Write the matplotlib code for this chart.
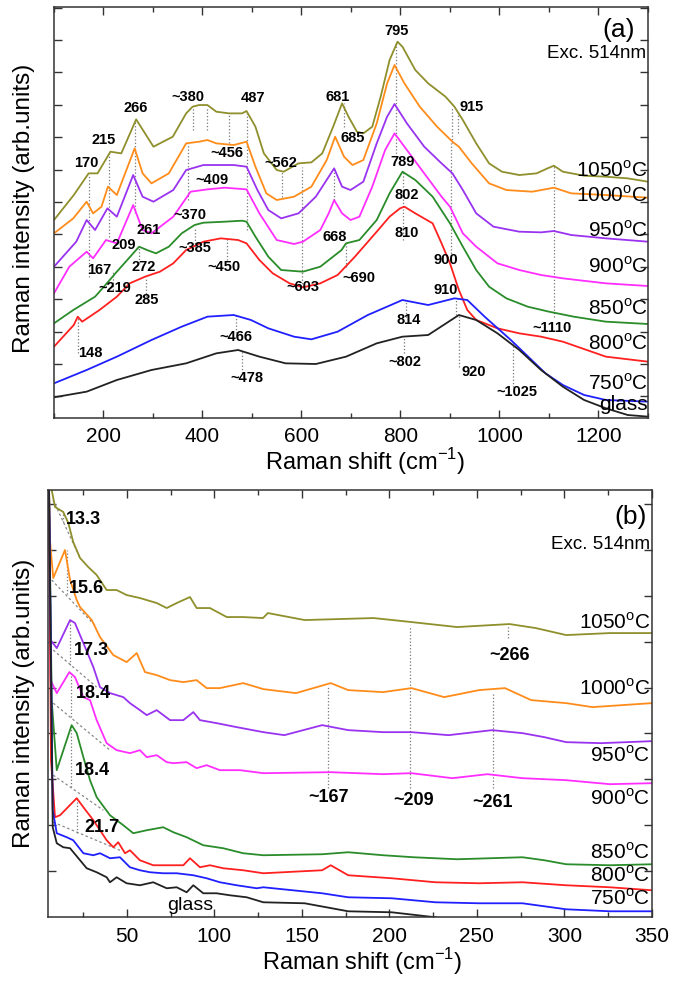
import matplotlib
matplotlib.use('Agg')
import matplotlib.pyplot as plt
import numpy as np
from matplotlib.ticker import MultipleLocator, FixedLocator, NullFormatter

plt.rcParams['font.family'] = ['Liberation Sans', 'DejaVu Sans']
plt.rcParams['mathtext.fontset'] = 'custom'
plt.rcParams['mathtext.rm'] = 'Liberation Sans'

# ---------------- panel (a) data: Raman shift (cm-1) / intensity (arb.) ----------------
a1050_x = [100, 140, 170, 188, 214, 236, 266, 301, 340, 367, 380, 393, 410, 428, 454, 480, 489, 507, 524, 550,
           564, 594, 620, 642, 664, 682, 695, 712, 725, 743, 760, 778, 794, 804, 830, 856, 891, 909, 926, 953,
           979, 1005, 1040, 1075, 1097, 1110, 1128, 1171, 1215, 1259, 1300]
a1050_y = [593, 668, 733, 733, 798, 793, 895, 813, 843, 913, 933, 938, 938, 918, 913, 913, 920, 873, 793, 743,
           738, 763, 766, 793, 873, 943, 903, 858, 853, 873, 963, 1073, 1128, 1113, 1043, 1003, 963, 933, 893, 823,
           763, 738, 728, 733, 748, 756, 738, 726, 723, 718, 708]

a1000_x = [100, 139, 166, 179, 196, 209, 227, 263, 279, 297, 332, 367, 393, 410, 428, 463, 489, 507, 529, 550,
           585, 620, 651, 668, 686, 703, 725, 752, 773, 788, 808, 839, 874, 905, 918, 944, 979, 1014, 1066, 1110,
           1145, 1215, 1300]
a1000_y = [553, 598, 648, 613, 633, 693, 668, 808, 733, 703, 733, 823, 828, 833, 823, 818, 828, 753, 673, 653,
           663, 693, 773, 843, 783, 758, 773, 883, 1003, 1058, 1003, 933, 873, 828, 813, 763, 703, 683, 678, 690,
           673, 668, 660]

a950_x = [100, 145, 166, 183, 208, 227, 260, 279, 301, 341, 367, 402, 428, 463, 489, 511, 533, 559, 594, 629,
          666, 682, 699, 725, 752, 773, 788, 813, 848, 883, 905, 926, 953, 988, 1040, 1084, 1110, 1145, 1215, 1300]
a950_y = [453, 528, 593, 563, 628, 603, 728, 663, 648, 683, 743, 758, 758, 758, 753, 683, 623, 598, 613, 663,
          748, 693, 683, 708, 823, 903, 941, 883, 813, 763, 733, 683, 613, 573, 558, 556, 560, 548, 538, 528]

a900_x = [100, 131, 166, 179, 205, 227, 260, 279, 297, 341, 376, 410, 445, 489, 515, 550, 585, 603, 638, 655,
          666, 682, 699, 717, 743, 769, 788, 813, 848, 883, 900, 926, 953, 996, 1040, 1084, 1128, 1215, 1300]
a900_y = [373, 453, 498, 478, 533, 523, 638, 563, 553, 603, 678, 685, 690, 685, 613, 533, 521, 528, 563, 613,
          653, 613, 593, 603, 693, 803, 853, 803, 733, 663, 633, 553, 513, 463, 443, 428, 418, 403, 395]

a850_x = [100, 139, 183, 201, 227, 272, 288, 306, 332, 358, 384, 402, 445, 480, 489, 507, 533, 559, 603, 638,
          681, 690, 717, 752, 778, 804, 830, 865, 900, 926, 953, 979, 1014, 1057, 1100, 1150, 1215, 1300]
a850_y = [283, 323, 363, 393, 438, 513, 503, 493, 513, 553, 578, 585, 588, 591, 588, 543, 483, 443, 438, 453,
          503, 523, 533, 593, 673, 738, 713, 663, 583, 513, 443, 393, 358, 333, 318, 303, 288, 281]

a800_x = [100, 140, 148, 157, 192, 227, 253, 284, 314, 341, 367, 402, 437, 472, 489, 515, 542, 576, 603, 638,
          673, 708, 752, 778, 799, 808, 830, 865, 883, 900, 918, 935, 953, 996, 1040, 1084, 1128, 1215, 1300]
a800_y = [213, 278, 303, 288, 323, 363, 403, 423, 438, 463, 503, 528, 538, 533, 523, 473, 433, 403, 391, 403,
          428, 483, 558, 603, 628, 633, 613, 583, 523, 463, 383, 323, 293, 268, 253, 243, 228, 183, 168]

a750_x = [100, 166, 227, 297, 358, 410, 463, 498, 533, 585, 620, 673, 734, 804, 856, 909, 935, 970, 1023, 1058,
          1093, 1128, 1171, 1215, 1300]
a750_y = [103, 143, 183, 233, 273, 303, 308, 293, 268, 243, 235, 258, 308, 353, 338, 358, 353, 303, 233, 183,
          133, 98, 68, 53, 48]

a_glass_x = [100, 166, 227, 297, 367, 428, 472, 515, 568, 629, 690, 752, 804, 856, 918, 953, 996, 1040, 1084,
             1128, 1171, 1215, 1259, 1300]
a_glass_y = [61, 78, 113, 143, 163, 193, 203, 183, 163, 161, 183, 223, 243, 248, 308, 293, 253, 203, 143,
             93, 53, 28, 8, 3]

# dotted peak markers (a): position, lower and upper intensity
a_vl_x = [170, 212, 219, 263, 272, 285, 148, 380, 410, 371, 384, 454, 489, 450, 467, 480, 561, 602, 686, 666,
          690, 790, 806, 812, 808, 904, 916, 902, 913, 918, 1027, 1110]
a_vl_lo = [423, 543, 383, 613, 463, 363, 193, 863, 863, 653, 513, 823, 563, 473, 253, 133, 663, 393, 873, 653,
           453, 773, 533, 303, 193, 823, 853, 473, 308, 153, 93, 303]
a_vl_hi = [728, 793, 443, 888, 513, 423, 303, 933, 933, 823, 573, 913, 920, 543, 308, 203, 738, 753, 943, 748,
           523, 1123, 738, 353, 243, 933, 923, 823, 358, 308, 223, 756]

# peak labels (a)
a_lab = ['170', '215', '266', '~380', '487', '681', '795', '915', '~456', '~562', '685', '~409', '789', '~370',
         '802', '261', '668', '810', '209', '~385', '167', '272', '~450', '900', '~219', '~603', '~690', '285',
         '910', '814', '~1110', '148', '~466', '~802', '920', '~478', '~1025']
a_lab_x = [166, 200, 266, 371, 502, 673, 793, 944, 450, 559, 703, 419, 804, 375, 813, 292, 668, 813, 240, 384,
           192, 281, 443, 891, 222, 603, 716, 288, 891, 817, 1106, 174, 467, 808, 948, 489, 1036]
a_lab_y = [763, 833, 928, 963, 958, 963, 1161, 933, 793, 763, 838, 713, 768, 608, 668, 563, 543, 553, 518, 508,
           443, 453, 453, 473, 388, 393, 418, 353, 383, 293, 268, 195, 243, 168, 138, 118, 78]

temps = ['1050', '1000', '950', '900', '850', '800', '750']
colors = ['#8f8f2c', '#ff8c1a', '#9933f0', '#ff2eff', '#2a8c2a', '#ff2020', '#2020ff']
a_temp_y = [743, 668, 563, 453, 328, 223, 103]
a_glass_lab_y = 40

# ---------------- panel (b) data ----------------
b1050_x = [5.5, 7.1, 9.0, 13.7, 16.6, 19.4, 23.3, 28.0, 32.8, 38.5, 44.2, 49.9, 57.5, 67.1, 72.8, 78.5, 86.1,
           89.9, 97.5, 107.1, 116.4, 127.8, 130.6, 151.6, 191, 212.6, 238.7, 268.6, 283.6, 301, 326, 350]
b1050_y = [440, 427, 410, 405, 394, 375, 359, 350, 342, 327, 327, 322, 319, 314, 309, 314, 320, 309, 309, 300,
           300, 299, 304, 297, 299, 295, 290, 293, 289, 282, 284, 284]

b1000_x = [5.5, 6.1, 8.0, 14.7, 17.6, 21.4, 23.3, 30.0, 34.7, 42.3, 49.9, 55.7, 60.4, 67.1, 74.7, 82.3, 89.9,
           95.6, 103.2, 116.5, 128.0, 146.6, 166.5, 176.5, 196.4, 212.6, 231.3, 251.2, 266, 281, 301, 316, 350]
b1000_y = [440, 377, 339, 367, 337, 317, 310, 297, 280, 262, 255, 264, 245, 242, 237, 235, 237, 229, 229, 234,
           228, 224, 234, 227, 225, 229, 220, 227, 229, 217, 214, 210, 214]

b950_x = [5.5, 6.5, 10.0, 17.6, 20.4, 25.2, 30.9, 34.7, 40.4, 48.0, 51.8, 57.5, 61.4, 67.1, 74.7, 82.3, 88.0,
          91.8, 101.3, 112.8, 128.0, 140, 161.6, 176.5, 196.4, 212.6, 233.8, 258.7, 276, 288.5, 301, 321, 350]
b950_y = [440, 277, 269, 297, 294, 274, 250, 230, 224, 220, 214, 207, 202, 207, 197, 197, 205, 197, 194, 190,
          185, 182, 192, 187, 185, 185, 182, 187, 184, 180, 175, 174, 176]

b900_x = [5.5, 6.5, 10.0, 17.2, 20.4, 25.2, 29.0, 32.8, 38.5, 44.2, 51.8, 57.5, 61.4, 67.1, 72.8, 76.6, 84.2,
          89.9, 95.6, 103.2, 114.7, 128.0, 166.5, 196.4, 212.6, 236, 256, 276, 301, 326, 350]
b900_y = [440, 237, 224, 245, 240, 220, 217, 197, 174, 167, 164, 167, 160, 162, 155, 154, 155, 149, 152, 147,
          147, 144, 145, 143, 144, 139, 143, 139, 137, 133, 134]

b850_x = [5.5, 7.1, 10.0, 18.5, 21.4, 25.2, 29.0, 32.8, 40.4, 48.0, 53.7, 61.4, 70.8, 76.6, 84.2, 93.7, 105.1,
          116.5, 128.0, 161.6, 176.5, 196.4, 213.8, 238.7, 276, 288.5, 301, 326, 350]
b850_y = [440, 217, 147, 192, 184, 160, 137, 120, 102, 92, 84, 87, 90, 85, 80, 72, 69, 64, 62, 63, 65, 62, 60,
          58, 60, 57, 53, 52, 53]

b800_x = [5.5, 6.7, 9.0, 11.9, 21.4, 25.2, 30.9, 38.5, 42.3, 45.1, 49.0, 51.8, 57.5, 65.1, 74.7, 82.3, 86.1,
          91.8, 97.5, 105.1, 116.5, 128.0, 161.6, 166.5, 176.5, 201.4, 226.3, 251.2, 276, 301, 326, 350]
b800_y = [440, 157, 100, 102, 119, 110, 97, 77, 70, 75, 64, 67, 57, 52, 52, 52, 59, 50, 52, 49, 47, 44, 47, 52,
          42, 39, 35, 34, 35, 32, 30, 27]

b750_x = [5.5, 7.7, 10.0, 15.7, 19.4, 25.2, 30.9, 34.7, 40.4, 46.1, 51.8, 57.5, 63.3, 70.8, 78.5, 88.0, 95.6,
          103.2, 112.8, 124.2, 128.0, 161.6, 176.5, 201.4, 226.3, 251.2, 276, 301, 326, 350]
b750_y = [440, 107, 84, 80, 77, 64, 62, 64, 59, 60, 50, 47, 45, 44, 44, 42, 39, 35, 32, 29, 30, 24, 20, 19, 15,
          14, 14, 8, 6, 6]

b_glass_x = [5.5, 7.7, 10.0, 13.7, 17.6, 23.3, 27.1, 32.8, 38.5, 40.4, 44.2, 49.9, 57.5, 65.1, 72.8, 78.5, 84.2,
             88.0, 93.7, 101.3, 108.9, 118.5, 128.0, 151.6, 176.5, 201.4, 216.3, 226.3, 245]
b_glass_y = [440, 90, 74, 70, 69, 57, 49, 45, 40, 35, 40, 34, 32, 35, 29, 30, 25, 32, 24, 24, 22, 20, 15, 14, 6,
             5, 2, 0, -5]

# boson-peak baselines (b): x0, y0, x1, y1
b_base_x0 = [7.9, 7.1, 8.0, 8.0, 8.0, 8.0]
b_base_y0 = [417, 337, 267, 214, 142, 95]
b_base_x1 = [23.3, 32.8, 32.8, 40.4, 36.6, 46.1]
b_base_y1 = [359, 290, 230, 167, 107, 67]
b_peak = ['13.3', '15.6', '17.3', '18.4', '18.4', '21.7']
b_peak_x = [13.3, 15.6, 17.3, 18.4, 18.4, 21.7]
b_peak_hi = [405, 367, 297, 245, 192, 119]
b_peak_lo = [395, 323, 252, 200, 130, 84]
b_peak_lab_x = [25.2, 27.1, 29.7, 30.9, 30.4, 35.7]
b_peak_lab_y = [397, 329, 267, 224, 147, 90]

b_vl_x = [165, 212, 259, 268]
b_vl_lo = [129, 129, 129, 279]
b_vl_hi = [230, 290, 223, 292]
b_lab = ['~266', '~167', '~209', '~261']
b_lab_x = [268.6, 165.3, 213.8, 258.7]
b_lab_y = [262, 120, 117, 115]
b_temp_y = [295, 229, 162, 119, 65, 42, 19]

# ---------------- figure ----------------
fig = plt.figure(figsize=(6.79, 9.89), dpi=100)
axa = fig.add_axes([0.0795, 0.5777, 0.8748, 0.4155])
axb = fig.add_axes([0.0707, 0.0725, 0.8895, 0.4321])

deg = '$^{\\mathrm{o}}$C'

# panel (a)
for x, lo, hi in zip(a_vl_x, a_vl_lo, a_vl_hi):
    axa.plot([x, x], [lo, hi], ls=':', color='#777777', lw=0.9)
a_series = [(a1050_x, a1050_y), (a1000_x, a1000_y), (a950_x, a950_y), (a900_x, a900_y),
            (a850_x, a850_y), (a800_x, a800_y), (a750_x, a750_y)]
for (xs, ys), c in zip(a_series, colors):
    axa.plot(xs, ys, color=c, lw=1.3)
axa.plot(a_glass_x, a_glass_y, color='#222222', lw=1.3)
for t, x, y in zip(a_lab, a_lab_x, a_lab_y):
    axa.text(x, y, t, fontsize=10.5, fontweight='bold', ha='center', va='center')
for t, y in zip(temps, a_temp_y):
    axa.text(1299, y, t + deg, fontsize=15, ha='right', va='center')
axa.text(1299, a_glass_lab_y, 'glass', fontsize=15, ha='right', va='center')
axa.text(1241, 1163, '(a)', fontsize=19, ha='center', va='center')
axa.text(1297, 1094, 'Exc. 514nm', fontsize=13.5, ha='right', va='center')

axa.set_xlim(100, 1300)
axa.set_ylim(0, 1233)
axa.xaxis.set_major_locator(FixedLocator([200, 400, 600, 800, 1000, 1200]))
axa.xaxis.set_minor_locator(MultipleLocator(100))
axa.yaxis.set_major_locator(FixedLocator(np.arange(64, 1233, 97.2)))
axa.yaxis.set_major_formatter(NullFormatter())
axa.set_xlabel('Raman shift (cm$^{-1}$)', fontsize=17)
axa.set_ylabel('Raman intensity (arb.units)', fontsize=17.5)
axa.xaxis.set_label_coords(0.524, -0.07)
axa.yaxis.set_label_coords(-0.032, 0.51)

# panel (b)
for x0, y0, x1, y1 in zip(b_base_x0, b_base_y0, b_base_x1, b_base_y1):
    axb.plot([x0, x1], [y0, y1], ls='--', color='#888888', lw=0.9, dashes=(2, 2))
for x, lo, hi in zip(b_peak_x, b_peak_lo, b_peak_hi):
    axb.plot([x, x], [lo, hi], ls=':', color='#777777', lw=0.9)
for x, lo, hi in zip(b_vl_x, b_vl_lo, b_vl_hi):
    axb.plot([x, x], [lo, hi], ls=':', color='#777777', lw=0.9)
b_series = [(b1050_x, b1050_y), (b1000_x, b1000_y), (b950_x, b950_y), (b900_x, b900_y),
            (b850_x, b850_y), (b800_x, b800_y), (b750_x, b750_y)]
for (xs, ys), c in zip(b_series, colors):
    axb.plot(xs, ys, color=c, lw=1.3)
axb.plot(b_glass_x, b_glass_y, color='#222222', lw=1.3)
for t, x, y in zip(b_peak, b_peak_lab_x, b_peak_lab_y):
    axb.text(x, y, t, fontsize=13, fontweight='bold', ha='center', va='center')
for t, x, y in zip(b_lab, b_lab_x, b_lab_y):
    axb.text(x, y, t, fontsize=13, fontweight='bold', ha='center', va='center')
for t, y in zip(temps, b_temp_y):
    axb.text(349, y, t + deg, fontsize=15, ha='right', va='center')
axb.text(86, 12, 'glass', fontsize=14, ha='center', va='center')
axb.text(338, 400, '(b)', fontsize=19, ha='center', va='center')
axb.text(349, 372, 'Exc. 514nm', fontsize=13.5, ha='right', va='center')

axb.set_xlim(5, 350)
axb.set_ylim(0, 427)
axb.xaxis.set_major_locator(FixedLocator([50, 100, 150, 200, 250, 300, 350]))
axb.xaxis.set_minor_locator(MultipleLocator(25))
axb.yaxis.set_major_locator(FixedLocator(np.arange(46, 427, 45.9)))
axb.yaxis.set_major_formatter(NullFormatter())
axb.set_xlabel('Raman shift (cm$^{-1}$)', fontsize=17)
axb.set_ylabel('Raman intensity (arb.units)', fontsize=17.5)
axb.xaxis.set_label_coords(0.52, -0.068)
axb.yaxis.set_label_coords(-0.0215, 0.5)

for ax in (axa, axb):
    ax.tick_params(which='both', direction='in', top=True, right=True, width=1.0, labelsize=15, pad=7,
                   color='#333333')
    ax.tick_params(which='major', length=6)
    ax.tick_params(which='minor', length=3.5)
    for s in ax.spines.values():
        s.set_linewidth(1.1)
        s.set_color('#333333')

fig.savefig('out.png', dpi=100)
